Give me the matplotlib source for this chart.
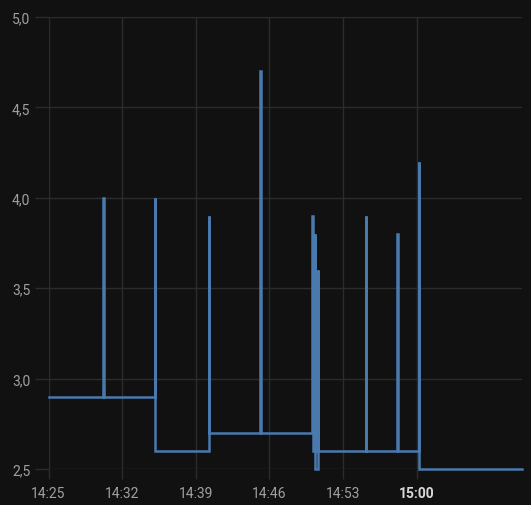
import matplotlib
matplotlib.use("Agg")
import matplotlib.pyplot as plt
import matplotlib.dates as mdates
import pandas as pd

# Readings (time, value) drawn as a step line (value held until next reading)
times = [
    "14:25:00", "14:30:13", "14:30:16", "14:35:07", "14:35:10",
    "14:40:14", "14:40:17", "14:45:08", "14:45:11",
    "14:50:03", "14:50:06", "14:50:18", "14:50:21", "14:50:35", "14:50:38",
    "14:55:09", "14:55:12", "14:58:08", "14:58:11",
    "15:00:11", "15:00:14", "15:10:00",
]
values = [
    2.9, 4.0, 2.9, 4.0, 2.6,
    3.9, 2.7, 4.7, 2.7,
    3.9, 2.6, 3.8, 2.5, 3.6, 2.6,
    3.9, 2.6, 3.8, 2.6,
    4.2, 2.5, 2.5,
]
x_ticks = ["14:25", "14:32", "14:39", "14:46", "14:53", "15:00"]
y_ticks = [2.5, 3.0, 3.5, 4.0, 4.5, 5.0]
y_tick_labels = ["2,5", "3,0", "3,5", "4,0", "4,5", "5,0"]

day = "2024-01-01 "
t = pd.to_datetime([day + s for s in times])
xt = pd.to_datetime([day + s for s in x_ticks])

plt.rcParams["font.family"] = ["Roboto", "DejaVu Sans"]

bg = "#111111"
grid_c = "#2c2c2c"
text_c = "#a0a0a0"
line_c = "#4a79ad"

fig = plt.figure(figsize=(5.31, 5.06), dpi=100, facecolor=bg)
ax = fig.add_axes([48.5 / 531, 36 / 506, (522 - 48.5) / 531, (470 - 18) / 506])
ax.set_facecolor(bg)

ax.step(t, values, where="post", color=line_c, linewidth=1.8,
        solid_joinstyle="miter", clip_on=False, zorder=3)

ax.set_xlim(pd.Timestamp(day + "14:25:00"), pd.Timestamp(day + "15:10:00"))
ax.set_ylim(2.5, 5.0)
ax.set_yticks(y_ticks)
ax.set_yticklabels(y_tick_labels)
ax.set_xticks(xt)
ax.set_xticklabels(x_ticks)
ax.xaxis.set_major_formatter(mdates.DateFormatter("%H:%M"))

for s in ax.spines.values():
    s.set_visible(False)

ax.grid(True, color=grid_c, linewidth=1.0)
ax.set_axisbelow(True)
ax.tick_params(axis="y", length=10, width=1.0, color=grid_c, colors=text_c, labelsize=10, pad=3)
ax.tick_params(axis="x", length=7, width=1.0, color=grid_c, colors=text_c, labelsize=10, pad=5)
for lab in ax.get_yticklabels():
    lab.set_color(text_c)
for lab in ax.get_xticklabels():
    lab.set_color(text_c)
    if lab.get_text() == "15:00":
        lab.set_fontweight("bold")
        lab.set_color("#d8d8d8")

fig.savefig("out.png", dpi=100, facecolor=bg)
